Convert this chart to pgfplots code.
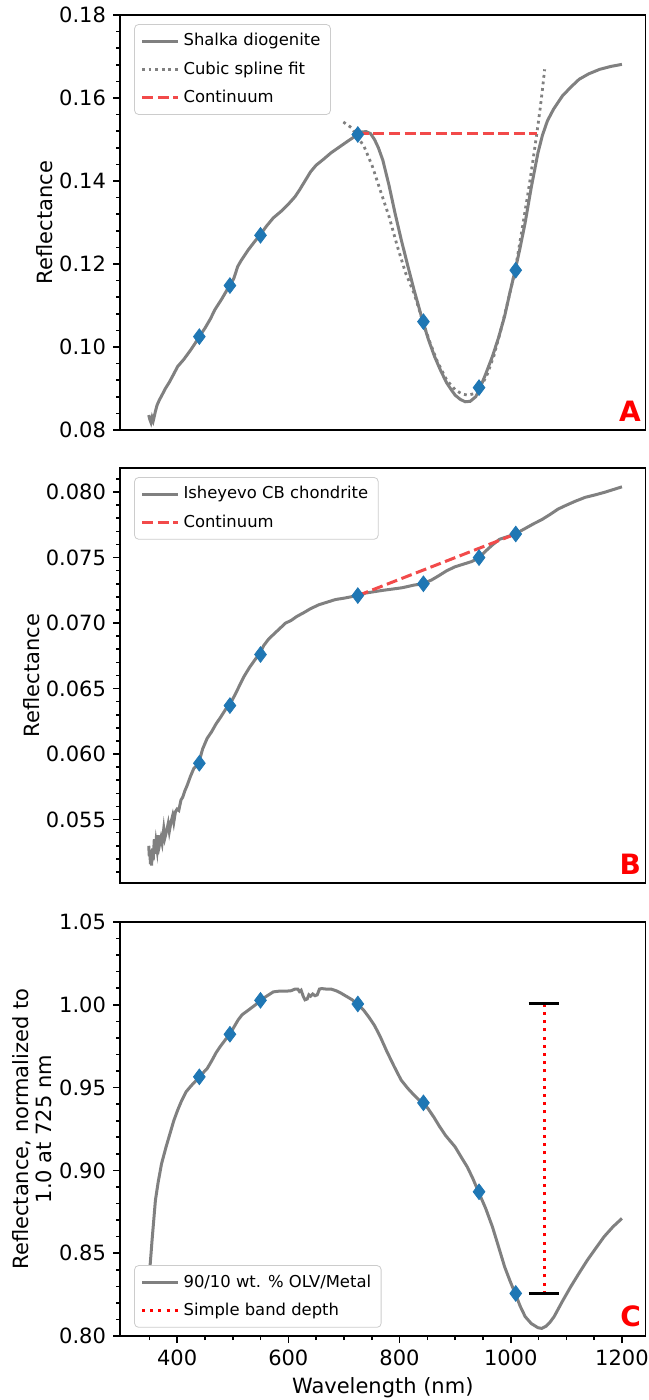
\documentclass[border=0pt]{standalone}
\usepackage{fontspec}
\setmainfont{DejaVu Sans}
\usepackage{pgfplots}
\pgfplotsset{compat=1.18}
\definecolor{tabblue}{HTML}{1F77B4}
\definecolor{curvegray}{HTML}{808080}
\definecolor{contred}{HTML}{F24A4A}
\pgfplotsset{
 panel/.style={scale only axis, width=262.75pt, height=207.5pt,
  xmin=297.3, xmax=1242.4, clip=false,
  axis line style={line width=0.8pt}, tick style={black, line width=0.8pt},
  major tick length=3.5pt, minor tick length=2pt, tick align=outside,
  ytick pos=left, xtick pos=bottom, scaled y ticks=false,
  ticklabel style={font=\fontsize{10.5}{12}\selectfont},
  /pgf/number format/assume math mode=true,
  legend cell align=left,
  legend style={font=\fontsize{8.2}{9.8}\selectfont, draw=black!20, rounded corners=2pt,
   fill=white, inner xsep=3pt, inner ysep=2.5pt, row sep=2.4pt},
  legend image code/.code={\draw[##1] (0pt,0pt) -- (18pt,0pt);},
 },
 spec/.style={curvegray, line width=1.5pt},
 dia/.style={only marks, mark=diamond*, mark size=3.9pt, color=tabblue, mark options={fill=tabblue, draw=tabblue}, forget plot},
 cont/.style={contred, line width=1.5pt, dash pattern=on 5.5pt off 2.3pt},
}
\begin{document}
\begin{tikzpicture}
\useasboundingbox (0,0) rectangle (324pt,700pt);
% ---------------- Panel A
\begin{axis}[panel, at={(60pt,485pt)}, anchor=south west,
 ymin=0.08, ymax=0.18, xtick=\empty,
 ytick={0.08,0.10,0.12,0.14,0.16,0.18},
 minor ytick={0.084,0.088,0.092,0.096,0.104,0.108,0.112,0.116,0.124,0.128,0.132,0.136,0.144,0.148,0.152,0.156,0.164,0.168,0.172,0.176},
 yticklabel style={/pgf/number format/.cd, fixed, fixed zerofill, precision=2},
 ylabel={Reflectance},
 every axis y label/.style={at={(axis description cs:-0.1427,0.5)}, rotate=90, anchor=center, font=\fontsize{10.5}{12}\selectfont},
 legend style={at={(axis description cs:0.027,0.978)}, anchor=north west},
]
\addplot[spec] coordinates {
(349,0.0836)(351,0.0825)(353,0.0818)(355,0.0830)(357,0.0822)(359,0.0833)(361,0.0845)(364,0.0860)
(368,0.0872)(372,0.0882)(379,0.0900)(386,0.0915)(394,0.0935)(401,0.0953)(412,0.0970)(424,0.0992)
(432,0.1008)(440,0.1025)(450,0.1045)(460,0.1068)(468,0.1090)(480,0.1115)(490,0.1138)(495,0.1148)
(502,0.1165)(509,0.1194)(515,0.1208)(528,0.1234)(540,0.1255)(549,0.1269)(560,0.1290)(573,0.1311)
(588,0.1328)(602,0.1347)(612,0.1362)(620,0.1378)(630,0.1400)(640,0.1422)(650,0.1438)(663,0.1452)
(677,0.1468)(692,0.1482)(707,0.1496)(716,0.1504)(724,0.1512)(732,0.1518)(740,0.1519)(748,0.1514)
(755,0.1500)(762,0.1480)(770,0.1450)(781,0.1390)(792,0.1322)(803,0.1259)(815,0.1195)(826,0.1138)
(835,0.1095)(842,0.1061)(852,0.1018)(863,0.0977)(874,0.0943)(885,0.0913)(893,0.0897)(900,0.0884)
(909,0.0874)(918,0.0868)(927,0.0869)(937,0.0880)(945,0.0902)(955,0.0935)(967,0.0977)(978,0.1022)
(989,0.1074)(998,0.1128)(1008,0.1185)(1017,0.1240)(1026,0.1300)(1037,0.1385)(1049,0.1468)(1057,0.1510)
(1066,0.1545)(1077,0.1573)(1093,0.1605)(1108,0.1626)(1123,0.1645)(1140,0.1658)(1160,0.1669)(1180,0.1676)(1200,0.1681)
};
\addlegendentry{Shalka diogenite}
\addplot[curvegray, line width=1.4pt, dash pattern=on 1.4pt off 1.9pt] coordinates {
(699,0.1542)(714,0.1528)(725,0.1505)(736,0.1484)(751,0.1436)(766,0.1375)(781,0.1315)(796,0.1243)
(811,0.1178)(826,0.1130)(842,0.1061)(855,0.1010)(868,0.0965)(885,0.0920)(900,0.0897)(912,0.0887)
(922,0.0884)(933,0.0887)(945,0.0900)(958,0.0935)(970,0.0980)(982,0.1040)(995,0.1110)(1008,0.1185)
(1020,0.1280)(1031,0.1370)(1040,0.1450)(1047,0.1515)(1053,0.1575)(1057,0.1620)(1061,0.1669)
};
\addlegendentry{Cubic spline fit}
\addplot[cont] coordinates {(725,0.1515)(1047,0.1515)};
\addlegendentry{Continuum}
\addplot[dia] coordinates {(440,0.1025)(495,0.1148)(550,0.1269)(725,0.1512)(843,0.1061)(943,0.0902)(1009,0.1185)};
\node[anchor=south east, inner sep=0pt, text=red, font=\fontsize{14}{14}\selectfont\bfseries] at (axis description cs:0.992,0.02) {A};
\end{axis}
% ---------------- Panel B
\begin{axis}[panel, at={(60pt,258.5pt)}, anchor=south west,
 ymin=0.05016, ymax=0.08184, xtick=\empty,
 ytick={0.055,0.060,0.065,0.070,0.075,0.080},
 minor ytick={0.051,0.052,0.053,0.054,0.056,0.057,0.058,0.059,0.061,0.062,0.063,0.064,0.066,0.067,0.068,0.069,0.071,0.072,0.073,0.074,0.076,0.077,0.078,0.079,0.081},
 yticklabel style={/pgf/number format/.cd, fixed, fixed zerofill, precision=3},
 ylabel={Reflectance},
 every axis y label/.style={at={(axis description cs:-0.1675,0.5)}, rotate=90, anchor=center, font=\fontsize{10.5}{12}\selectfont},
 legend style={at={(axis description cs:0.027,0.978)}, anchor=north west},
]
\addplot[spec] coordinates {
(349,0.0530)(350,0.0522)(351,0.0527)(352,0.0516)(353,0.0525)(354,0.0515)(356,0.0528)(357,0.0519)
(359,0.0535)(360,0.0524)(362,0.0533)(364,0.0527)(366,0.0538)(368,0.0530)(371,0.0536)(373,0.0532)
(376,0.0543)(378,0.0536)(381,0.0541)(384,0.0547)(386,0.0541)(389,0.0548)(392,0.0553)(394,0.0548)
(397,0.0556)(400,0.0558)(403,0.0557)(407,0.0565)(410,0.0567)(414,0.0572)(418,0.0576)(424,0.0583)
(430,0.0589)(435,0.0591)(440,0.0595)(446,0.0604)(454,0.0612)(462,0.0617)(470,0.0623)(478,0.0628)
(487,0.0634)(495,0.0638)(505,0.0646)(513,0.0653)(520,0.0659)(530,0.0666)(540,0.0672)(549,0.0677)
(556,0.0683)(565,0.0688)(575,0.0692)(585,0.0696)(595,0.0700)(605,0.0702)(615,0.0705)(628,0.0708)
(640,0.0711)(655,0.0714)(670,0.0716)(685,0.0718)(700,0.0719)(712,0.0720)(724,0.0721)(740,0.0723)
(755,0.0724)(770,0.0725)(788,0.0726)(805,0.0727)(826,0.0729)(842,0.0730)(858,0.0733)(870,0.0736)
(885,0.0740)(900,0.0743)(915,0.0745)(930,0.0747)(943,0.0750)(955,0.0755)(968,0.0760)(980,0.0764)
(994,0.0766)(1008,0.0768)(1025,0.0772)(1042,0.0776)(1056,0.0779)(1071,0.0783)(1085,0.0787)(1100,0.0790)
(1116,0.0793)(1134,0.0796)(1153,0.0798)(1170,0.0800)(1185,0.0802)(1200,0.0804)
};
\addlegendentry{Isheyevo CB chondrite}
\addplot[cont] coordinates {(725,0.0721)(1009,0.0768)};
\addlegendentry{Continuum}
\addplot[dia] coordinates {(440,0.0593)(495,0.0637)(550,0.0676)(725,0.0721)(843,0.0730)(943,0.0750)(1009,0.0768)};
\node[anchor=south east, inner sep=0pt, text=red, font=\fontsize{14}{14}\selectfont\bfseries] at (axis description cs:0.992,0.02) {B};
\end{axis}
% ---------------- Panel C
\begin{axis}[panel, at={(60pt,32pt)}, anchor=south west, height=207pt,
 ymin=0.80, ymax=1.05,
 xtick={400,600,800,1000,1200},
 minor xtick={350,450,500,550,650,700,750,850,900,950,1050,1100,1150},
 xticklabel style={/pgf/number format/1000 sep={}},
 ytick={0.80,0.85,0.90,0.95,1.00,1.05},
 minor ytick={0.81,0.82,0.83,0.84,0.86,0.87,0.88,0.89,0.91,0.92,0.93,0.94,0.96,0.97,0.98,0.99,1.01,1.02,1.03,1.04},
 yticklabel style={/pgf/number format/.cd, fixed, fixed zerofill, precision=2},
 ylabel={Reflectance, normalized to\\1.0 at 725 nm},
 every axis y label/.style={at={(axis description cs:-0.168,0.5)}, rotate=90, anchor=center, align=center, font=\fontsize{10.5}{11.5}\selectfont},
 xlabel={Wavelength (nm)},
 every axis x label/.style={at={(axis description cs:0.5,-0.126)}, anchor=center, font=\fontsize{10.5}{12}\selectfont},
 legend style={at={(axis description cs:0.027,0.02)}, anchor=south west},
]
\addplot[spec] coordinates {
(349,0.8330)(352,0.8450)(355,0.8580)(358,0.8700)(361,0.8820)(366,0.8930)(372,0.9040)(380,0.9140)
(387,0.9220)(394,0.9300)(401,0.9364)(408,0.9420)(416,0.9474)(425,0.9510)(432,0.9535)(440,0.9565)
(447,0.9590)(454,0.9615)(462,0.9660)(470,0.9710)(478,0.9750)(487,0.9790)(495,0.9822)(503,0.9870)
(510,0.9910)(517,0.9940)(525,0.9960)(535,0.9985)(543,1.0005)(550,1.0027)(560,1.0050)(573,1.0078)
(585,1.0083)(595,1.0082)(605,1.0085)(612,1.0095)(617,1.0095)(620,1.0080)(623,1.0088)(627,1.0050)
(630,1.0030)(634,1.0035)(637,1.0060)(640,1.0052)(644,1.0065)(648,1.0055)(652,1.0060)(656,1.0095)
(660,1.0098)(668,1.0095)(677,1.0095)(686,1.0085)(695,1.0070)(705,1.0050)(715,1.0030)(724,1.0003)
(735,0.9970)(745,0.9925)(755,0.9875)(765,0.9810)(777,0.9720)(790,0.9630)(803,0.9545)(815,0.9495)
(826,0.9455)(835,0.9425)(843,0.9408)(852,0.9370)(862,0.9320)(872,0.9265)(883,0.9210)(893,0.9170)
(900,0.9142)(911,0.9080)(922,0.9020)(932,0.8950)(942,0.8871)(955,0.8770)(967,0.8660)(978,0.8540)
(989,0.8418)(999,0.8330)(1008,0.8257)(1017,0.8180)(1026,0.8117)(1037,0.8075)(1049,0.8050)(1056,0.8046)
(1064,0.8060)(1071,0.8085)(1078,0.8117)(1093,0.8210)(1108,0.8298)(1123,0.8380)(1138,0.8459)(1153,0.8530)
(1168,0.8600)(1184,0.8660)(1200,0.8710)
};
\addlegendentry{90/10 wt. \% OLV/Metal}
\addplot[red, line width=1.5pt, dash pattern=on 1.5pt off 2.6pt] coordinates {(1060,0.8255)(1060,1.001)};
\addlegendentry{Simple band depth}
\addplot[black, line width=1.4pt, forget plot] coordinates {(1032,1.001)(1087,1.001)};
\addplot[black, line width=1.4pt, forget plot] coordinates {(1032,0.8255)(1087,0.8255)};
\addplot[dia] coordinates {(440,0.9565)(495,0.9822)(550,1.0027)(725,1.0005)(843,0.9408)(943,0.8871)(1009,0.8257)};
\node[anchor=south east, inner sep=0pt, text=red, font=\fontsize{14}{14}\selectfont\bfseries] at (axis description cs:0.992,0.02) {C};
\end{axis}
\end{tikzpicture}
\end{document}
